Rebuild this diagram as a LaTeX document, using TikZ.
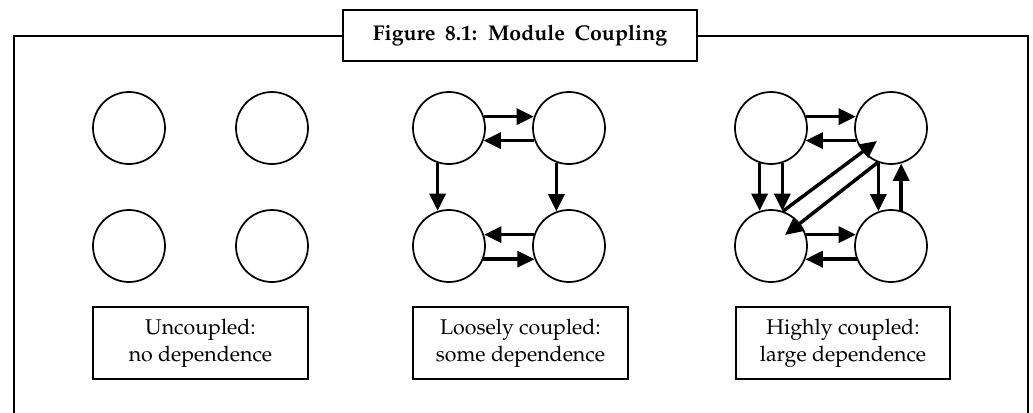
\documentclass[tikz,border=0pt]{standalone}
\usepackage[T1]{fontenc}
\usepackage{mathpazo}
\usetikzlibrary{arrows.meta,calc}
\newcommand\ttlfont{\fontsize{16}{19}\selectfont\bfseries\spaceskip=0.45em\relax}
\tikzset{
  mod/.style={circle,draw,line width=1.3pt,minimum size=54pt,inner sep=0pt,fill=white},
  lab/.style={draw,line width=1.3pt,minimum width=161pt,minimum height=54pt,align=center,
    font=\fontsize{16}{20}\selectfont,inner sep=0pt},
  dep/.style={line width=2.6pt,-{Triangle[length=13pt,width=12pt]}},
  frame/.style={line width=1.5pt},
  ttl/.style={draw,line width=1.5pt,fill=white,minimum width=265pt,minimum height=38pt,
    font=\ttlfont,inner sep=0pt}
}
\begin{document}
\begin{tikzpicture}[x=0.75pt,y=-0.75pt]
\useasboundingbox (0,0) rectangle (1033,412);
% frame
\coordinate (fbl) at (14,420);
\coordinate (ftl) at (14,36);
\coordinate (ftr) at (1028,36);
\coordinate (fbr) at (1028,420);
\draw[frame] (fbl) -- (ftl) -- (ftr) -- (fbr);
\node[ttl] (title) at (520,35.5) {Figure 8.1: Module Coupling};
% group 1
\node[mod] (a1) at (129,128) {};
\node[mod] (b1) at (272,128) {};
\node[mod] (c1) at (129,246) {};
\node[mod] (d1) at (272,246) {};
\node[lab] (l1) at (200.5,343) {Uncoupled:\\no dependence};
% group 2
\node[mod] (a2) at (449,128) {};
\node[mod] (b2) at (569,128) {};
\node[mod] (c2) at (449,246) {};
\node[mod] (d2) at (569,246) {};
\node[lab] (l2) at (520.5,343) {Loosely coupled:\\some dependence};
\draw[dep] (a2.18) -- (b2.162);
\draw[dep] (b2.200) -- (a2.-20);
\draw[dep] (d2.162) -- (c2.18);
\draw[dep] (c2.-21) -- (d2.201);
\draw[dep] (a2.252) -- (c2.108);
\draw[dep] (b2.250) -- (d2.110);
% group 3
\node[mod] (a3) at (771,128) {};
\node[mod] (b3) at (891,128) {};
\node[mod] (c3) at (771,246) {};
\node[mod] (d3) at (891,246) {};
\node[lab] (l3) at (843,343) {Highly coupled:\\large dependence};
\draw[dep] (a3.18) -- (b3.162);
\draw[dep] (b3.200) -- (a3.-20);
\draw[dep] (c3.18) -- (d3.162);
\draw[dep] (d3.201) -- (c3.-21);
\draw[dep] (a3.252) -- (c3.108);
\draw[dep] (a3.288) -- (c3.72);
\draw[dep] (b3.250) -- (d3.110);
\draw[dep] (d3.74) -- (b3.286);
\draw[dep] (c3.71) -- ($(b3)+(-14,13)$);
\draw[dep] (b3.249) -- ($(c3)+(14,-11)$);
\end{tikzpicture}
\end{document}
